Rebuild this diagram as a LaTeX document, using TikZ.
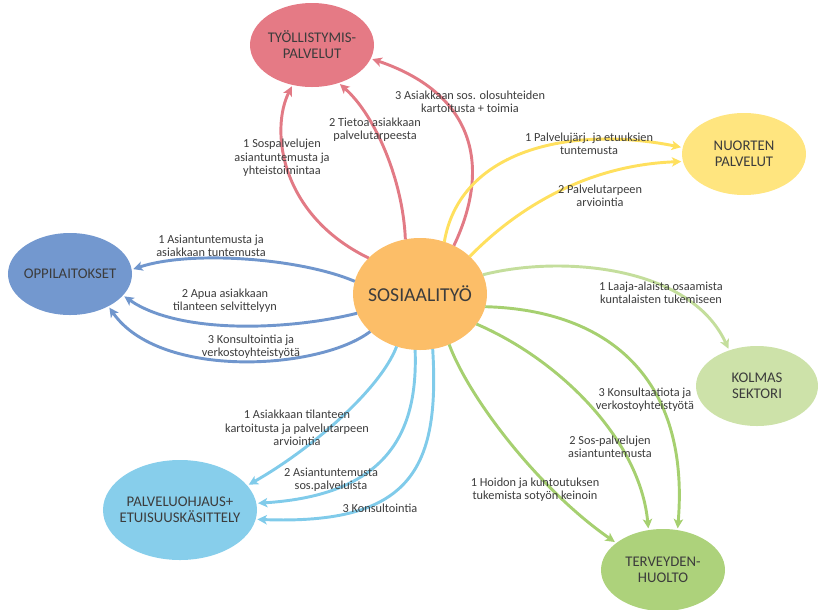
\documentclass[tikz,border=0pt]{standalone}
\usepackage{fontspec}
\setmainfont{Carlito}
\usetikzlibrary{arrows.meta,shapes.geometric}

\definecolor{txt}{HTML}{3C3C3C}
\definecolor{redfill}{HTML}{E57A85}
\definecolor{redline}{HTML}{E27A85}
\definecolor{yelfill}{HTML}{FFE57F}
\definecolor{yelline}{HTML}{FFE05E}
\definecolor{bluefill}{HTML}{7398CF}
\definecolor{blueline}{HTML}{7096CD}
\definecolor{socfill}{HTML}{FCBE68}
\definecolor{kolfill}{HTML}{CDE2A9}
\definecolor{kolline}{HTML}{C4DE9C}
\definecolor{terfill}{HTML}{ADD27B}
\definecolor{terline}{HTML}{A6D070}
\definecolor{skyfill}{HTML}{87CEEB}
\definecolor{skyline}{HTML}{80CBEA}

\tikzset{
  unit/.style={ellipse, inner sep=0pt, outer sep=0pt, draw=none,
    label={[font=\fontsize{12.6}{13.6}\selectfont, text=txt, align=center]center:#1}},
  hub/.style={ellipse, inner sep=0pt, outer sep=0pt, draw=none, fill=socfill,
    minimum width=4.02cm, minimum height=3.36cm,
    label={[font=\fontsize{16.8}{18}\selectfont, text=txt]center:#1}},
  note/.style={font=\fontsize{10.5}{11.4}\selectfont, text=txt, align=center, inner sep=0pt},
  link/.style={line width=2.5pt, shorten >=1.5pt,
    -{Stealth[length=8pt, width=8pt, inset=2pt]}},
}

\begin{document}
\begin{tikzpicture}[x=0.03cm, y=-0.03cm]
\useasboundingbox (0,0) rectangle (818,609);

% ellipses
\node[hub={SOSIAALITYÖ}] (soc) at (420,294) {};
\node[unit={TYÖLLISTYMIS-\\PALVELUT}, fill=redfill, minimum width=3.72cm, minimum height=2.52cm] (tyo) at (312,45) {};
\node[unit={NUORTEN\\PALVELUT}, fill=yelfill, minimum width=3.72cm, minimum height=2.46cm] (nuo) at (744,154) {};
\node[unit={OPPILAITOKSET}, fill=bluefill, minimum width=3.72cm, minimum height=2.46cm] (opp) at (70,274) {};
\node[unit={KOLMAS\\SEKTORI}, fill=kolfill, minimum width=3.66cm, minimum height=2.40cm] (kol) at (757,386) {};
\node[unit={PALVELUOHJAUS+\\ETUISUUSKÄSITTELY}, fill=skyfill, minimum width=4.62cm, minimum height=3.0cm] (pal) at (180,510) {};
\node[unit={TERVEYDEN-\\HUOLTO}, fill=terfill, minimum width=3.72cm, minimum height=2.46cm] (ter) at (663,570) {};

% Työllistymispalvelut
\draw[link, redline] (soc.145) .. controls (280,215) and (270,130) .. (tyo.-116);
\draw[link, redline] (soc.105) .. controls (403,180) and (375,115) .. (tyo.-55);
\draw[link, redline] (soc.55.5) .. controls (490,170) and (478,95) .. (tyo.-13);

% Nuorten palvelut
\draw[link, yelline] (soc.65) .. controls (460,150) and (570,125) .. (nuo.174);
\draw[link, yelline] (soc.37.6) .. controls (520,205) and (590,165) .. (nuo.-173);

% Oppilaitokset
\draw[link, blueline] (soc.169.5) .. controls (300,258) and (190,250) .. (opp.4);
\draw[link, blueline] (soc.-163) .. controls (290,330) and (180,335) .. (opp.-22);
\draw[link, blueline] (soc.-143) .. controls (320,370) and (160,380) .. (opp.-40);

% Palveluohjaus + etuisuuskäsittely
\draw[link, skyline] (soc.-114) .. controls (380,390) and (310,450) .. (pal.20);
\draw[link, skyline] (soc.-95) .. controls (418,430) and (390,495) .. (pal.5);
\draw[link, skyline] (soc.-77) .. controls (440,470) and (410,525) .. (pal.-7);

% Kolmas sektori
\draw[link, kolline] (soc.17.6) .. controls (560,255) and (690,265) .. (kol.128);

% Terveydenhuolto
\draw[link, terline] (soc.-60.5) .. controls (470,400) and (540,490) .. (ter.150);
\draw[link, terline] (soc.-28) .. controls (560,360) and (640,440) .. (ter.110);
\draw[link, terline] (soc.-11.8) .. controls (610,310) and (690,380) .. (ter.70);

% labels
\node[note] (r1) at (282,158) {1 Sospalvelujen\\asiantuntemusta ja\\yhteistoimintaa};
\node[note] (r2) at (375,130) {2 Tietoa asiakkaan\\palvelutarpeesta};
\node[note] (r3) at (470,102) {3 Asiakkaan sos. olosuhteiden\\kartoitusta + toimia};
\node[note] (y1) at (589,144) {1 Palvelujärj. ja etuuksien\\tuntemusta};
\node[note] (y2) at (600,196) {2 Palvelutarpeen\\arviointia};
\node[note] (b1) at (211,246) {1 Asiantuntemusta ja\\asiakkaan tuntemusta};
\node[note] (b2) at (225,301) {2 Apua asiakkaan\\tilanteen selvittelyyn};
\node[note] (b3) at (251,347) {3 Konsultointia ja\\verkostoyhteistyötä};
\node[note] (k1) at (661,293) {1 Laaja-alaista osaamista\\kuntalaisten tukemiseen};
\node[note] (t3) at (645,400) {3 Konsultaatiota ja\\verkostoyhteistyötä};
\node[note] (t2) at (610,447) {2 Sos-palvelujen\\asiantuntemusta};
\node[note] (t1) at (535,490) {1 Hoidon ja kuntoutuksen\\tukemista sotyön keinoin};
\node[note] (s1) at (297,428) {1 Asiakkaan tilanteen\\kartoitusta ja palvelutarpeen\\arviointia};
\node[note] (s2) at (331,480) {2 Asiantuntemusta\\sos.palveluista};
\node[note] (s3) at (380,508) {3 Konsultointia};
\end{tikzpicture}
\end{document}
